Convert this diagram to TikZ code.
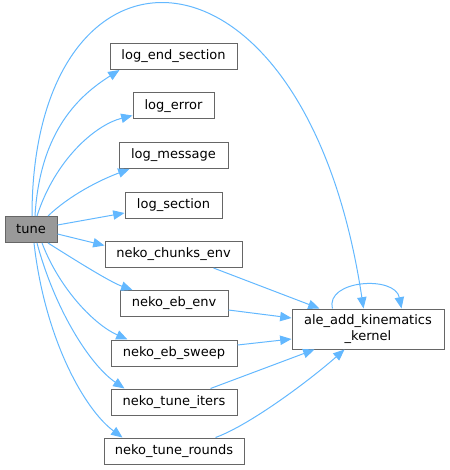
\documentclass[tikz,border=0pt]{standalone}
\usepackage{fontspec}
\setmainfont{DejaVu Sans}
\usetikzlibrary{arrows.meta,calc}
\definecolor{edgec}{HTML}{63B8FF}
\definecolor{boxc}{HTML}{666666}
\definecolor{tunec}{HTML}{999999}
\begin{document}
\begin{tikzpicture}[x=0.75pt,y=-0.75pt,
  fn/.style={draw=boxc,fill=white,line width=0.75pt,inner sep=0pt,minimum height=26*0.75pt,font=\fontsize{9.75pt}{11pt}\selectfont},
  call/.style={draw=edgec,line width=0.75pt,-{Triangle[length=8.5pt,width=7pt]}}]
\useasboundingbox (0,0) rectangle (449,470);
\node[fn,fill=tunec,minimum width=52*0.75pt] (tune) at (31,229.5) {tune};
\node[fn,minimum width=127*0.75pt] (les) at (173.5,56.5) {log\_end\_section};
\node[fn,minimum width=81*0.75pt] (lerr) at (173.5,106) {log\_error};
\node[fn,minimum width=109*0.75pt] (lmsg) at (173.5,155.5) {log\_message};
\node[fn,minimum width=97*0.75pt] (lsec) at (173.5,205) {log\_section};
\node[fn,minimum width=137*0.75pt] (nce) at (173.5,254.5) {neko\_chunks\_env};
\node[fn,minimum width=108*0.75pt] (nee) at (174,303.5) {neko\_eb\_env};
\node[fn,minimum width=126*0.75pt] (nes) at (174,353) {neko\_eb\_sweep};
\node[fn,minimum width=126*0.75pt] (nti) at (174,402) {neko\_tune\_iters};
\node[fn,minimum width=140*0.75pt] (ntr) at (174,451) {neko\_tune\_rounds};
\node[fn,minimum width=152*0.75pt,minimum height=40*0.75pt,align=center,
  font=\fontsize{9.75pt}{12pt}\selectfont] (ale) at (368,329) {ale\_add\_kinematics\\\_kernel};
% tune -> ale big arc
\draw[call] ($(tune.north)+(1,0)$) .. controls (32,-81) and (305,-81) .. ($(ale.north west)+(72,0)$);
% tune -> log nodes
\draw[call] ($(tune.north)+(4,0)$) .. controls (40,130) and (80,95) .. ($(les.south west)+(10,0)$);
\draw[call] ($(tune.north)+(6,0)$) .. controls (55,160) and (95,125) .. ($(lerr.south west)+(0,-4)$);
\draw[call] ($(tune.north)+(17,0)$) .. controls (70,195) and (100,180) .. ($(lmsg.south west)+(11,0)$);
\draw[call] ($(tune.east)+(0,-4.5)$) -- ($(lsec.west)+(0,8)$);
\draw[call] ($(tune.east)+(0,4.5)$) -- ($(nce.west)+(0,-9)$);
\draw[call] ($(tune.south)+(17,0)$) .. controls (75,260) and (110,282) .. ($(nee.north west)+(13,0)$);
\draw[call] ($(tune.south)+(11,0)$) .. controls (60,290) and (95,325) .. ($(nes.north west)+(17,0)$);
\draw[call] ($(tune.south)+(6,0)$) .. controls (55,310) and (90,365) .. ($(nti.north west)+(14,0)$);
\draw[call] ($(tune.south)+(3,0)$) .. controls (45,340) and (85,410) .. ($(ntr.north west)+(19,0)$);
% -> ale
\draw[call] ($(nce.south east)+(-29,0)$) -- ($(ale.north west)+(28,0)$);
\draw[call] ($(nee.east)+(0,6.5)$) -- ($(ale.west)+(0,-11)$);
\draw[call] ($(nes.east)+(0,-8)$) -- ($(ale.west)+(0,10)$);
\draw[call] ($(nti.north east)+(-27,0)$) -- ($(ale.south west)+(23,0)$);
\draw[call] ($(ntr.north east)+(-29,0)$) .. controls (250,425) and (310,380) .. ($(ale.south west)+(53,0)$);
\draw[call] ($(ale.north west)+(41,0)$) .. controls (325,280) and (395,275) .. ($(ale.north west)+(110,0)$);
\end{tikzpicture}
\end{document}
